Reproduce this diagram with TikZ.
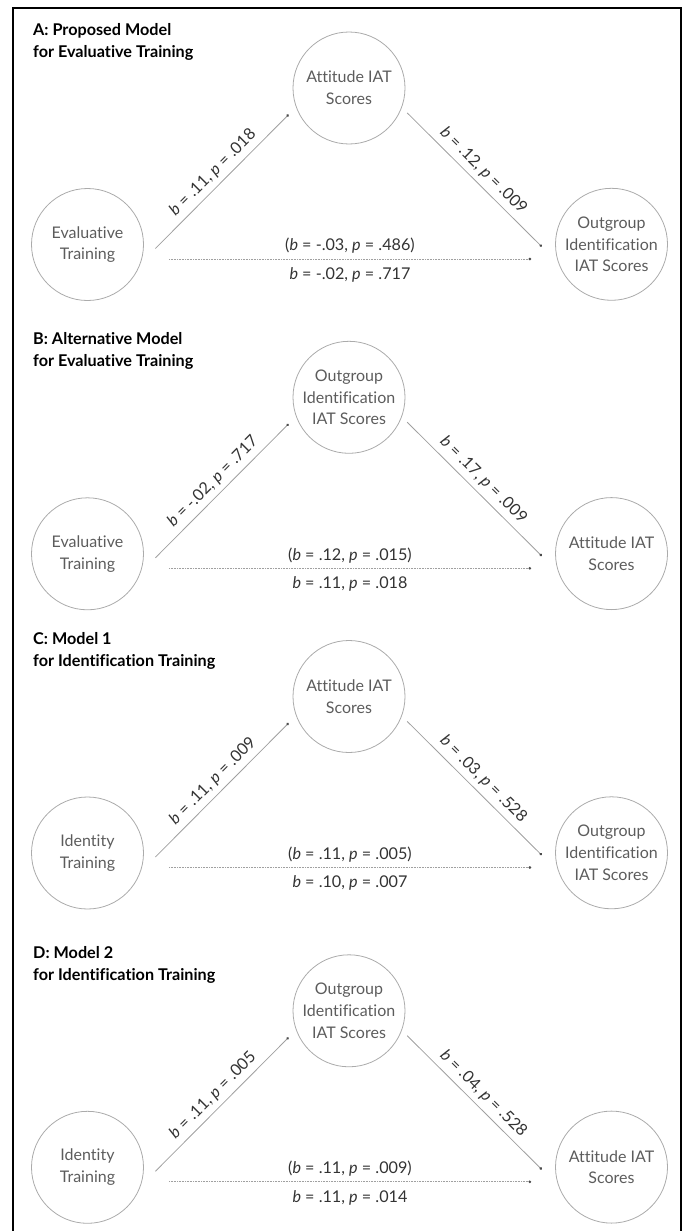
\documentclass[tikz,border=0pt]{standalone}
\usepackage{fontspec}
\setmainfont{Lato}[Ligatures=NoCommon]
\usetikzlibrary{arrows.meta}

\definecolor{circgray}{HTML}{ABABAB}
\definecolor{txtgray}{HTML}{5C5C5C}
\definecolor{linegray}{HTML}{A0A0A0}
\definecolor{coefgray}{HTML}{333333}

\tikzstyle{var} = [circle, minimum size=112pt, inner sep=0pt, draw=circgray, line width=0.8pt, text=txtgray, align=center, font=\fontsize{16}{21.8}\selectfont]
\tikzstyle{paneltitle} = [anchor=west, align=left, inner sep=0pt, font=\fontsize{16.2}{22}\selectfont\bfseries]
\tikzstyle{coef} = [text=coefgray, inner sep=2pt, font=\fontsize{16.2}{18}\selectfont]
\tikzstyle{link} = [draw=linegray, line width=0.8pt, -{Circle[length=2.6pt, color=black!70]}]
\tikzstyle{direct} = [link, dash pattern=on 0.9pt off 0.7pt]

\begin{document}
\begin{tikzpicture}[x=1pt, y=-1pt]

\useasboundingbox (0,0) rectangle (684,1231);

% Frame
\draw [line width=2.2pt] (13,1231) -- (13,8) -- (681,8) -- (681,1231);

% Panel A
\node (titleA) [paneltitle] at (33,42) {A: Proposed Model\\for Evaluative Training};
\node (attA) [var] at (349,88) {Attitude IAT\\Scores};
\node (evalA) [var] at (87.5,244.5) {Evaluative\\Training};
\node (outA) [var] at (611.5,244.3) {Outgroup\\Identification\\IAT Scores};

\draw [link] ([xshift=11.5pt,yshift=-4pt]evalA.east) -- node [coef, sloped, above=3pt] {\textit{b} = .11, \textit{p} = .018} ([xshift=-4pt,yshift=-26.6pt]attA.west);
\draw [link] ([xshift=1.8pt,yshift=-24.9pt]attA.east) -- node [coef, sloped, above=3pt] {\textit{b} = .12, \textit{p} = .009} ([xshift=-13.4pt,yshift=-2.3pt]outA.west);
\draw [direct] ([xshift=25pt,yshift=-14.5pt]evalA.east) -- node [coef, above=3pt] {(\textit{b} = -.03, \textit{p} = .486)} node [coef, below=6pt] {\textit{b} = -.02, \textit{p} = .717} ([xshift=-24pt,yshift=-14.7pt]outA.west);

% Panel B
\node (titleB) [paneltitle] at (33,351.3) {B: Alternative Model\\for Evaluative Training};
\node (outB) [var] at (349,397.3) {Outgroup\\Identification\\IAT Scores};
\node (evalB) [var] at (87.5,553.8) {Evaluative\\Training};
\node (attB) [var] at (611.5,553.6) {Attitude IAT\\Scores};

\draw [link] ([xshift=11.5pt,yshift=-4pt]evalB.east) -- node [coef, sloped, above=3pt] {\textit{b} = -.02, \textit{p} = .717} ([xshift=-4pt,yshift=-26.6pt]outB.west);
\draw [link] ([xshift=1.8pt,yshift=-24.9pt]outB.east) -- node [coef, sloped, above=3pt] {\textit{b} = .17, \textit{p} = .009} ([xshift=-13.4pt,yshift=-2.3pt]attB.west);
\draw [direct] ([xshift=25pt,yshift=-14.5pt]evalB.east) -- node [coef, above=3pt] {(\textit{b} = .12, \textit{p} = .015)} node [coef, below=6pt] {\textit{b} = .11, \textit{p} = .018} ([xshift=-24pt,yshift=-14.7pt]attB.west);

% Panel C
\node (titleC) [paneltitle] at (33,650.5) {C: Model 1\\for Identification Training};
\node (attC) [var] at (349,696.5) {Attitude IAT\\Scores};
\node (idC) [var] at (87.5,853) {Identity\\Training};
\node (outC) [var] at (611.5,852.8) {Outgroup\\Identification\\IAT Scores};

\draw [link] ([xshift=11.5pt,yshift=-4pt]idC.east) -- node [coef, sloped, above=3pt] {\textit{b} = .11, \textit{p} = .009} ([xshift=-4pt,yshift=-26.6pt]attC.west);
\draw [link] ([xshift=1.8pt,yshift=-24.9pt]attC.east) -- node [coef, sloped, above=3pt] {\textit{b} = .03, \textit{p} = .528} ([xshift=-13.4pt,yshift=-2.3pt]outC.west);
\draw [direct] ([xshift=25pt,yshift=-14.5pt]idC.east) -- node [coef, above=3pt] {(\textit{b} = .11, \textit{p} = .005)} node [coef, below=6pt] {\textit{b} = .10, \textit{p} = .007} ([xshift=-24pt,yshift=-14.7pt]outC.west);

% Panel D
\node (titleD) [paneltitle] at (33,964.8) {D: Model 2\\for Identification Training};
\node (outD) [var] at (349,1010.8) {Outgroup\\Identification\\IAT Scores};
\node (idD) [var] at (87.5,1167.3) {Identity\\Training};
\node (attD) [var] at (611.5,1167.1) {Attitude IAT\\Scores};

\draw [link] ([xshift=11.5pt,yshift=-4pt]idD.east) -- node [coef, sloped, above=3pt] {\textit{b} = .11, \textit{p} = .005} ([xshift=-4pt,yshift=-26.6pt]outD.west);
\draw [link] ([xshift=1.8pt,yshift=-24.9pt]outD.east) -- node [coef, sloped, above=3pt] {\textit{b} = .04, \textit{p} = .528} ([xshift=-13.4pt,yshift=-2.3pt]attD.west);
\draw [direct] ([xshift=25pt,yshift=-14.5pt]idD.east) -- node [coef, above=3pt] {(\textit{b} = .11, \textit{p} = .009)} node [coef, below=6pt] {\textit{b} = .11, \textit{p} = .014} ([xshift=-24pt,yshift=-14.7pt]attD.west);

\end{tikzpicture}
\end{document}
